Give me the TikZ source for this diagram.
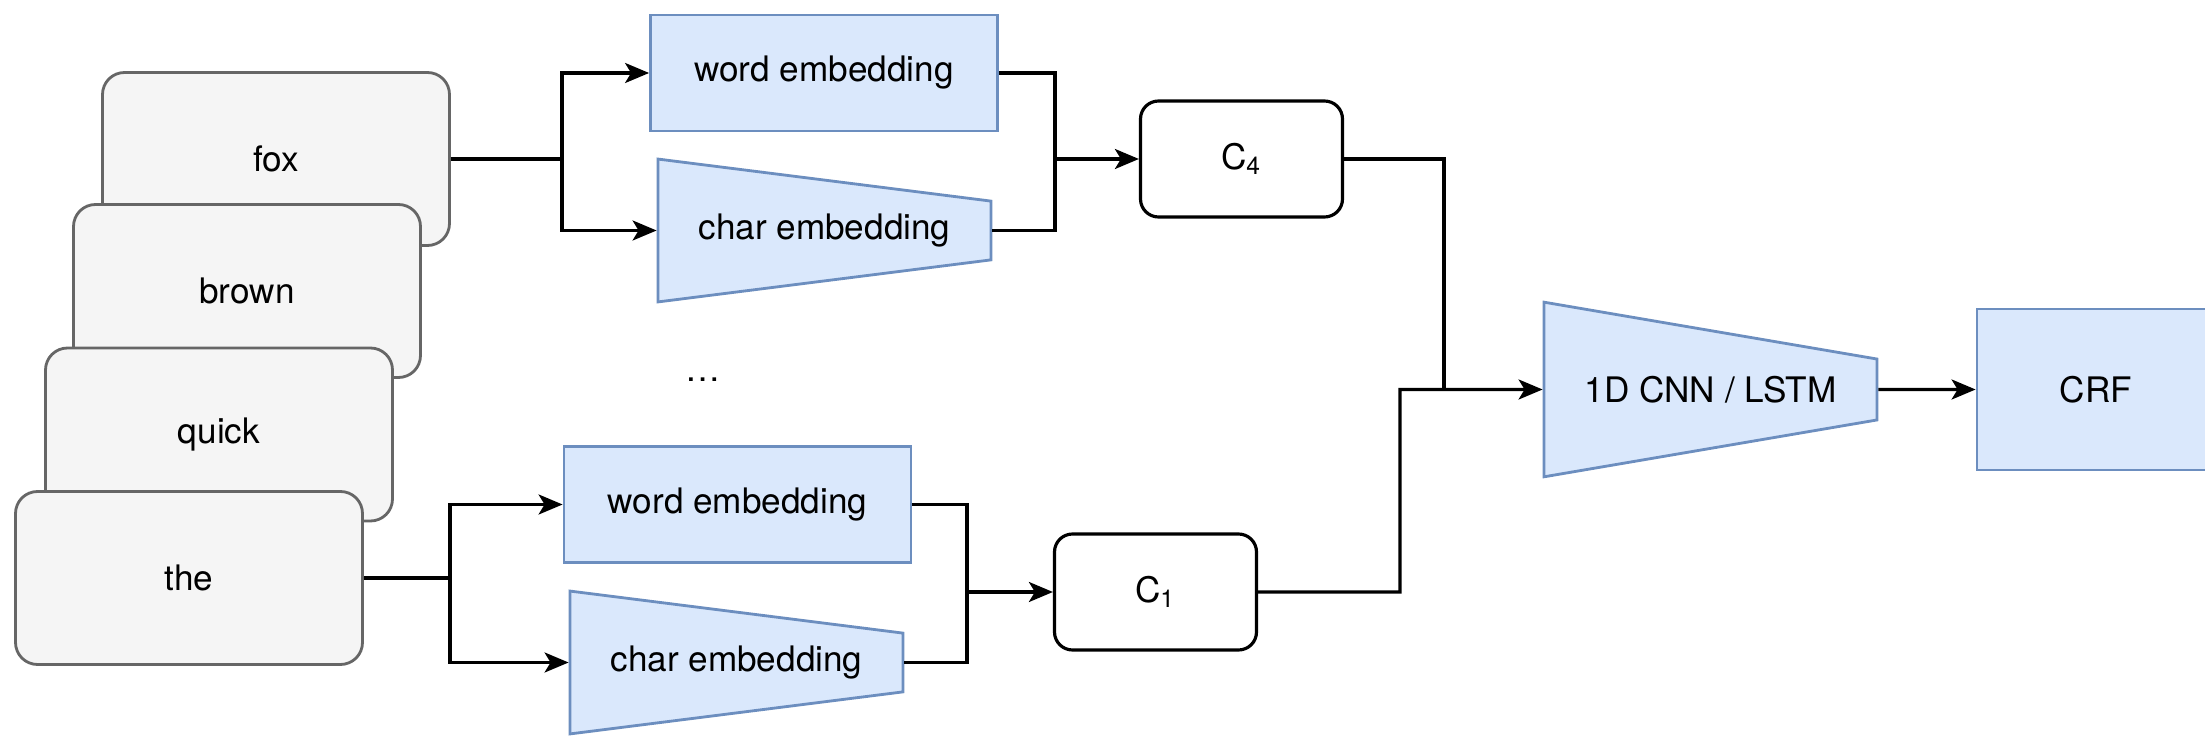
\documentclass[tikz,border=0pt]{standalone}
\usepackage{fontspec}
\setmainfont{TeX Gyre Heros}
\usetikzlibrary{shapes.geometric,arrows.meta,positioning}

\definecolor{embfill}{HTML}{DAE8FC}
\definecolor{embline}{HTML}{6C8EBF}
\definecolor{tokfill}{HTML}{F5F5F5}
\definecolor{tokline}{HTML}{666666}

\tikzset{
  token/.style={draw=tokline, fill=tokfill, rounded corners=0.22cm, minimum width=3.47cm, minimum height=1.73cm, line width=0.8pt},
  embbox/.style={draw=embline, fill=embfill, minimum width=3.47cm, minimum height=1.16cm, line width=0.8pt},
  embtrap/.style={draw=embline, fill=embfill, trapezium, shape border rotate=270, trapezium angle=84.6, trapezium stretches=true, minimum width=1.43cm, minimum height=3.33cm, inner sep=0pt, line width=0.8pt},
  concat/.style={draw, rounded corners=0.18cm, minimum width=2.02cm, minimum height=1.16cm, line width=0.9pt},
  link/.style={line width=0.9pt},
  arr/.style={link, -{Stealth[length=0.24cm, width=0.2cm, inset=0.06cm]}},
}

\begin{document}
\begin{tikzpicture}
  \useasboundingbox (0,0) rectangle (22.05,7.36);
  % words of the sentence, stacked
  \node[token] (fox) at (2.76,5.77) {fox};
  \node[token] (brown) at (2.47,4.45) {brown};
  \node[token] (quick) at (2.19,3.015) {quick};
  \node[token] (the) at (1.89,1.58) {the};
  % embeddings
  \node[embbox] (wordA) at (8.24,6.63) {word embedding};
  \node[embtrap] (charA) at (8.245,5.055) {char embedding};
  \node (dots) at (7.03,3.56) {\dots};
  \node[embbox] (wordB) at (7.375,2.315) {word embedding};
  \node[embtrap] (charB) at (7.365,0.735) {char embedding};
  % concatenations
  \node[concat] (c4) at (12.415,5.77) {C\textsubscript{4}};
  \node[concat] (c1) at (11.555,1.44) {C\textsubscript{1}};
  % sequence model and output
  \node[embtrap, trapezium angle=84.3, minimum width=1.75cm] (cnn) at (17.105,3.465) {1D CNN / LSTM};
  \node[embbox, minimum width=2.38cm, minimum height=1.61cm] (crf) at (20.96,3.465) {CRF};

  \coordinate (splitA) at (5.62,5.77);
  \coordinate (mergeA) at (10.55,5.77);
  \coordinate (splitB) at (4.50,1.58);
  \coordinate (mergeB) at (9.67,1.44);
  \coordinate (joinA) at (14.44,3.465);
  \coordinate (joinB) at (14.00,3.465);

  \draw[link] (fox) -- (splitA);
  \draw[arr] (splitA) |- (wordA);
  \draw[arr] (splitA) |- (charA);
  \draw[link] (wordA) -| (mergeA);
  \draw[link] (charA) -| (mergeA);
  \draw[arr] (mergeA) -- (c4);

  \draw[link] (the) -- (splitB);
  \draw[arr] (splitB) |- (wordB);
  \draw[arr] (splitB) |- (charB);
  \draw[link] (wordB) -| (mergeB);
  \draw[link] (charB) -| (mergeB);
  \draw[arr] (mergeB) -- (c1);

  \draw[link] (c4) -| (joinA);
  \draw[arr] (c1) -| (joinB) -- (cnn);
  \draw[arr] (cnn) -- (crf);
\end{tikzpicture}
\end{document}
